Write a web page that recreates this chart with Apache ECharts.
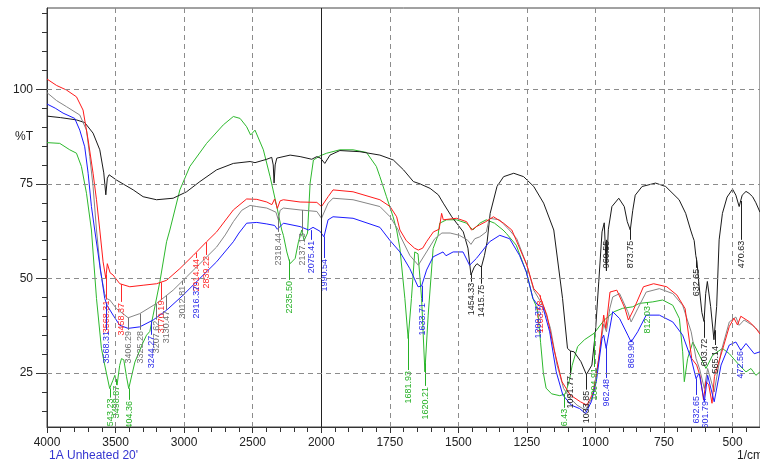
<!DOCTYPE html>
<html><head><meta charset="utf-8">
<script src="https://cdn.jsdelivr.net/npm/echarts@6/dist/echarts.min.js"></script>
<style>html,body{margin:0;padding:0;background:#fff}#c{width:760px;height:463px}</style>
</head><body><div id="c"></div>
<script>
// ---- data: [wavenumber (1/cm), %T] ----
const blackData = [[4000,92.9],[3900,92.5],[3785,91.9],[3725,91.2],[3664,88.4],[3615,84],[3586,77.9],[3571,72.1],[3560,76.5],[3547,77.4],[3493,76.0],[3371,73.4],[3299,71.6],[3201,70.8],[3080,71.2],[2982,72.9],[2885,75.6],[2763,78.7],[2641,80.4],[2519,80.9],[2483,80.6],[2397,81.5],[2361,82.0],[2350,80],[2344,75.2],[2336,80],[2324,81.8],[2227,82.6],[2154,82.2],[2069,81.5],[2032,82.2],[2005,81.8],[1987,80.4],[1968,82.6],[1932,83.8],[1859,83.5],[1786,82.6],[1737,81.3],[1700,78.7],[1664,75.6],[1640,75],[1603,73.8],[1573,72.1],[1555,69.9],[1524,66.3],[1482,62.3],[1465,58],[1454,50.9],[1442,53],[1432,53.9],[1416,53],[1405,56],[1395,59.7],[1384,67.2],[1359,74.3],[1335,76.9],[1298,77.8],[1262,76.9],[1225,74.3],[1189,69.9],[1152,62.8],[1120,44.7],[1102,31.5],[1091,30.8],[1078,30.6],[1053,28],[1033,24.6],[1013,27.1],[1000,35.9],[988,49.1],[976,62.3],[968,64.7],[960,52],[953,63],[940,69],[915,71.2],[895,69],[884,65],[873,62.8],[864,68],[855,72],[830,74.3],[781,75.2],[744,74.3],[695,70.8],[671,67.2],[653,62.8],[645,61],[640,60],[634,56],[630,54.5],[622,48],[612,41],[604,38.6],[598,46],[592,49.2],[580,42.6],[568,33.8],[558,42.6],[549,60.2],[537,67.2],[520,71.5],[500,73.6],[488,72],[476,69],[465,72],[451,73],[440,72.5],[427,71.6],[415,70],[400,67.5]];
const redData = [[4000,102.7],[3930,101],[3858,99.8],[3785,98],[3737,94.5],[3700,86.6],[3664,77.8],[3639,70.8],[3615,62.8],[3591,54.4],[3571,50],[3560,53.9],[3540,51.5],[3518,50.9],[3469,48.6],[3396,47.8],[3299,48.2],[3201,48.6],[3128,49.5],[3031,52.6],[2933,56.1],[2836,59.7],[2763,62.3],[2641,68.1],[2544,71],[2470,70.9],[2397,70.2],[2360,69.5],[2340,71],[2320,68.5],[2300,70.5],[2276,70.8],[2154,70.2],[2032,70.1],[1999,69],[1975,71.6],[1957,73.4],[1884,72.9],[1786,70.8],[1749,69],[1725,66.3],[1713,62.8],[1690,60],[1660,58],[1646,57.5],[1630,58],[1616,59.7],[1591,62.3],[1570,63],[1561,67.2],[1555,65.5],[1506,65.9],[1470,65],[1452,62.8],[1434,63.7],[1400,65],[1372,66.3],[1335,64.6],[1305,62.8],[1298,62.3],[1250,53.5],[1225,47.3],[1204,45.6],[1177,40.3],[1152,31.5],[1122,22.7],[1092,19.2],[1055,17.4],[1031,16.5],[1007,20],[988,28.8],[970,40.3],[962,36.8],[947,46.4],[922,46.9],[892,42],[880,39],[862,41.6],[825,47.8],[788,48.6],[740,47.8],[703,45.6],[673,42],[649,28.8],[631,27.1],[618,24.1],[606,17.9],[597,22.7],[587,21.9],[575,17],[566,24.1],[537,31.1],[512,37.3],[495,39.5],[482,37.7],[470,40],[440,38.6],[416,36.9],[400,35.3]];
const grayData = [[4000,99.1],[3930,97],[3858,95.4],[3761,93.2],[3712,89.2],[3688,82.2],[3664,74.3],[3639,62.8],[3610,52],[3580,46],[3566,44.7],[3542,44.3],[3493,42],[3408,39.6],[3323,40.7],[3201,43.4],[3080,46.9],[2982,50.4],[2885,53.9],[2763,58.3],[2700,61.5],[2641,65],[2580,68],[2519,69.3],[2470,69],[2397,68.6],[2360,68],[2330,67.5],[2313,65.5],[2300,68],[2276,68.6],[2154,68.1],[2032,67.7],[1999,65.9],[1975,69.9],[1957,71.2],[1884,70.8],[1786,69],[1749,66.3],[1719,62.8],[1713,61.4],[1677,56.1],[1646,53.5],[1616,57],[1586,60.5],[1560,62],[1530,62],[1496,61.4],[1466,60.1],[1454,59],[1440,60.5],[1422,61],[1398,62.3],[1387,65.9],[1350,65.5],[1314,62.8],[1287,60.5],[1250,53.5],[1225,46.9],[1189,42.5],[1164,36.8],[1140,27.1],[1116,20.9],[1092,18.3],[1067,16.5],[1037,15.2],[1013,18.3],[995,25.3],[976,35],[970,38],[960,35.9],[948,42],[937,45.1],[912,46],[882,41.2],[870,38.5],[846,42],[815,46.4],[767,47.3],[718,46],[682,42.9],[651,35.9],[633,28.8],[620,26],[603,20.9],[591,26.2],[567,20],[542,30.6],[512,38.5],[488,39.8],[476,37.6],[458,39],[427,37.6],[400,35.7]];
const blueData = [[4000,96.1],[3940,95],[3883,93.7],[3798,92.3],[3761,89.2],[3725,84.8],[3700,77.8],[3676,69],[3652,62.8],[3615,53.5],[3579,44.7],[3562,42.9],[3518,40.3],[3469,37.6],[3408,36.8],[3323,37.2],[3226,39],[3128,41.6],[3007,45.6],[2885,50],[2763,54.4],[2641,59.7],[2600,62],[2544,64.6],[2470,64.8],[2397,64.4],[2340,64],[2320,63],[2276,64.6],[2154,63.7],[2092,62.8],[2081,62.5],[2060,63.5],[2010,62.5],[1990,61],[1975,65.5],[1957,66.3],[1884,65.9],[1786,63.5],[1750,60.1],[1713,57],[1677,52.6],[1647,47.8],[1634,48],[1616,52.2],[1592,55.7],[1556,57],[1545,56],[1519,57],[1483,57],[1459,53.5],[1434,55.3],[1410,57.5],[1386,59.7],[1349,61.4],[1313,60.5],[1277,56.1],[1252,51.7],[1228,44.7],[1210,42.9],[1192,42.5],[1167,35.9],[1143,25.3],[1119,19.2],[1088,16.5],[1058,15.6],[1036,14.3],[1015,17.4],[997,22.7],[976,34.1],[970,35],[961,31.5],[937,41.2],[912,39.4],[882,35],[870,33.2],[846,35.9],[815,40.3],[767,40.3],[718,38.5],[682,35],[651,28.8],[633,23.5],[622,25],[603,17.4],[591,24.4],[567,17.4],[542,27.1],[512,32.4],[488,33.2],[470,31],[451,32.8],[421,30.1],[400,30.6]];
const greenData = [[4000,85.9],[3907,85.7],[3834,84],[3785,83.1],[3749,79.6],[3712,72.5],[3676,62.8],[3639,44.7],[3603,31.5],[3579,27.1],[3543,20.9],[3520,23],[3505,24.4],[3489,21.8],[3470,27],[3457,28.8],[3440,28.5],[3420,24],[3404,20.9],[3359,27.9],[3300,33],[3274,35],[3250,36],[3226,40.3],[3177,49.1],[3128,59.7],[3104,62.8],[3031,73.4],[2958,79.6],[2836,85.7],[2714,90.6],[2641,92.8],[2592,92.3],[2544,90.1],[2515,87.9],[2483,89.2],[2422,84],[2373,76.9],[2324,69],[2288,62.8],[2276,61.4],[2251,57],[2227,53.9],[2190,55.3],[2166,59.7],[2142,62.8],[2125,60],[2100,62],[2081,75.2],[2057,81.3],[2009,82.4],[1980,83.1],[1932,84],[1884,84],[1835,83.3],[1799,79.6],[1786,76.9],[1762,71.6],[1738,66.3],[1725,62.8],[1713,57.9],[1695,44.7],[1683,34.1],[1671,44.7],[1659,57],[1647,56.5],[1634,44.7],[1622,25.3],[1610,40.3],[1592,57.9],[1574,61.4],[1568,64.6],[1543,65.5],[1507,65.5],[1470,64.6],[1447,62.8],[1422,64.6],[1398,65.5],[1368,64.6],[1337,62.8],[1325,61.9],[1289,58.8],[1252,51.7],[1228,44.7],[1218,43],[1210,41],[1200,33],[1190,25],[1180,21],[1160,19.5],[1130,19],[1110,19.5],[1095,23],[1085,27],[1065,32],[1040,33.8],[1005,35.5],[968,39],[932,41.2],[901,42.1],[864,42.5],[840,43.4],[791,43.8],[755,44.3],[718,42.9],[694,39.4],[682,30.6],[676,22.7],[664,28.8],[645,33.2],[621,29.7],[597,26.2],[573,29.7],[537,31.5],[512,30.1],[476,27.1],[451,25.3],[433,26.2],[415,24.4],[400,25.3]];

// peak labels: [wavenumber, %T where the label starts]
const blackPeaks = [[1454.33,49.1],[1415.75,48.6],[1091.77,24.5],[1033.85,20.6],[960.55,60.2],[873.75,60.2],[632.65,52.8],[603.72,34.3],[565.14,32.4],[470.63,60.2]];
const redPeaks = [[3568.31,44.4],[3458.37,43.8],[3170.19,44.4],[2914.44,55.4],[2839.22,56.2],[1203.58,44.4]];
const grayPeaks = [[3406.29,36.4],[3325.28,36.4],[3207.62,39.1],[3130.47,41.7],[3012.81,48.3],[2318.44,62.3],[2137.13,62.3]];
const bluePeaks = [[3568.31,36.4],[3244.27,35.1],[2916.37,48.3],[2075.41,60.2],[1990.54,55.4],[1633.71,43.8],[1209.37,43.0],[962.48,23.7],[869.90,33.8],[632.65,19.2],[601.79,17.9],[472.56,31.1]];
const greenPeaks = [[3543.23,18.5],[3498.87,21.9],[3404.36,17.9],[2235.50,49.6],[1681.93,25.8],[1620.21,21.6],[1116.43,15.8],[1004.91,26.6],[812.03,43.0]];

const xTickLabels = [4000,3500,3000,2500,2000,1750,1500,1250,1000,750,500];
const yTickLabels = [25,50,75,100];
const yMinorTicks = [15,20,25,30,35,40,45,50,55,60,65,70,75,80,85,90,95,100,105,110,115,120];

// split axis: 4000-2000 compressed 2x, 2000-400 linear
function toU(w){ return w >= 2000 ? (4000 - w) / 2 : 1000 + (2000 - w); }
function fromU(u){ return u <= 1000 ? 4000 - 2 * u : 2000 - (u - 1000); }
function valAt(data, w){
  for (let i = 0; i < data.length - 1; i++){
    const a = data[i], b = data[i+1];
    if (w <= a[0] && w >= b[0]){ const t = (a[0]-w)/(a[0]-b[0]); return a[1] + t*(b[1]-a[1]); }
  }
  return data[data.length-1][1];
}

const COLORS = {black:'#1a1a1a', red:'#ff1a1a', gray:'#858585', blue:'#1a1aff', green:'#2db82d'};
const LABEL_COLORS = {black:'#222', red:'#ff2a2a', gray:'#707070', blue:'#2a2ae8', green:'#25b025'};

function lineSeries(name, data){
  return {name, type:'line', showSymbol:false, symbol:'none', z:3, animation:false,
    data: data.map(d => [toU(d[0]), d[1]]), lineStyle:{color:COLORS[name], width:1}, itemStyle:{color:COLORS[name]}};
}
function labelSeries(name, data, peaks){
  const color = LABEL_COLORS[name];
  return {type:'custom', z:4, clip:true, silent:true, animation:false,
    data: peaks.map(p => [toU(p[0]), valAt(data, p[0]), p[1], p[0]]),
    encode:{x:0, y:1},
    renderItem(params, api){
      const u = api.value(0), tv = api.value(1), lt = api.value(2), w = api.value(3);
      const p0 = api.coord([u, tv]), p1 = api.coord([u, lt]);
      return {type:'group', children:[
        {type:'line', shape:{x1:Math.round(p0[0])+0.5, y1:p0[1], x2:Math.round(p0[0])+0.5, y2:p1[1]}, style:{stroke:color, lineWidth:1}},
        {type:'text', x:Math.round(p1[0])+0.5, y:p1[1]+1, rotation:Math.PI/2,
          style:{text:w.toFixed(2), fill:color, font:'9px "Liberation Sans", Arial, sans-serif', align:'right', verticalAlign:'middle'}}
      ]};
    }
  };
}

const gridLineStyle = {color:'#8c8c8c', width:1, type:[5,4]};
const helper = {type:'line', data:[], z:1, silent:true, animation:false,
  markLine:{silent:true, symbol:'none', animation:false, label:{show:false},
    data: [
      ...xTickLabels.filter(w => w !== 2000 && w !== 4000).map(w => ({xAxis: toU(w), lineStyle: gridLineStyle})),
      {xAxis: toU(2000), lineStyle:{color:'#222', width:1, type:'solid'}},
      ...yTickLabels.map(v => ({yAxis: v, lineStyle: gridLineStyle}))
    ]}
};

const chart = echarts.init(document.getElementById('c'), null, {renderer:'canvas'});
chart.setOption({
  animation:false,
  backgroundColor:'#fff',
  grid:{left:47, right:0, top:8, bottom:36, show:true, borderColor:'#444', borderWidth:1},
  xAxis:{type:'value', min:0, max:2600, interval:250,
    axisLine:{show:true, onZero:false, lineStyle:{color:'#333'}},
    axisTick:{show:true, length:6, lineStyle:{color:'#333'}},
    minorTick:{show:true, splitNumber:5, length:5, lineStyle:{color:'#333'}},
    splitLine:{show:false},
    axisLabel:{color:'#222', fontSize:12, fontFamily:'Liberation Sans', margin:10, showMaxLabel:false,
      formatter: u => String(Math.round(fromU(u)))}
  },
  yAxis:[
    {type:'value', min:10.73, max:121.48,
      axisLine:{show:true, onZero:false, lineStyle:{color:'#333'}},
      axisTick:{show:true, length:11, customValues:yTickLabels, lineStyle:{color:'#333'}},
      splitLine:{show:false},
      axisLabel:{customValues:yTickLabels, color:'#222', fontSize:12, fontFamily:'Liberation Sans', margin:14}
    },
    {type:'value', min:10.73, max:121.48, position:'left',
      axisLine:{show:false}, splitLine:{show:false}, axisLabel:{show:false},
      axisTick:{show:true, length:5, customValues:yMinorTicks, lineStyle:{color:'#333'}}
    }
  ],
  graphic:[
    {type:'text', left:15, top:131, style:{text:'%T', fill:'#222', font:'12px "Liberation Sans", Arial'}},
    {type:'text', left:49, top:450, style:{text:"1A Unheated 20'", fill:'#3434d0', font:'12px "Liberation Sans", Arial'}},
    {type:'text', left:737, top:450, style:{text:'1/cm', fill:'#222', font:'12px "Liberation Sans", Arial'}}
  ],
  series:[
    helper,
    lineSeries('green', greenData),
    lineSeries('black', blackData),
    lineSeries('gray', grayData),
    lineSeries('red', redData),
    lineSeries('blue', blueData),
    labelSeries('black', blackData, blackPeaks),
    labelSeries('red', redData, redPeaks),
    labelSeries('gray', grayData, grayPeaks),
    labelSeries('blue', blueData, bluePeaks),
    labelSeries('green', greenData, greenPeaks)
  ]
});
</script></body></html>
